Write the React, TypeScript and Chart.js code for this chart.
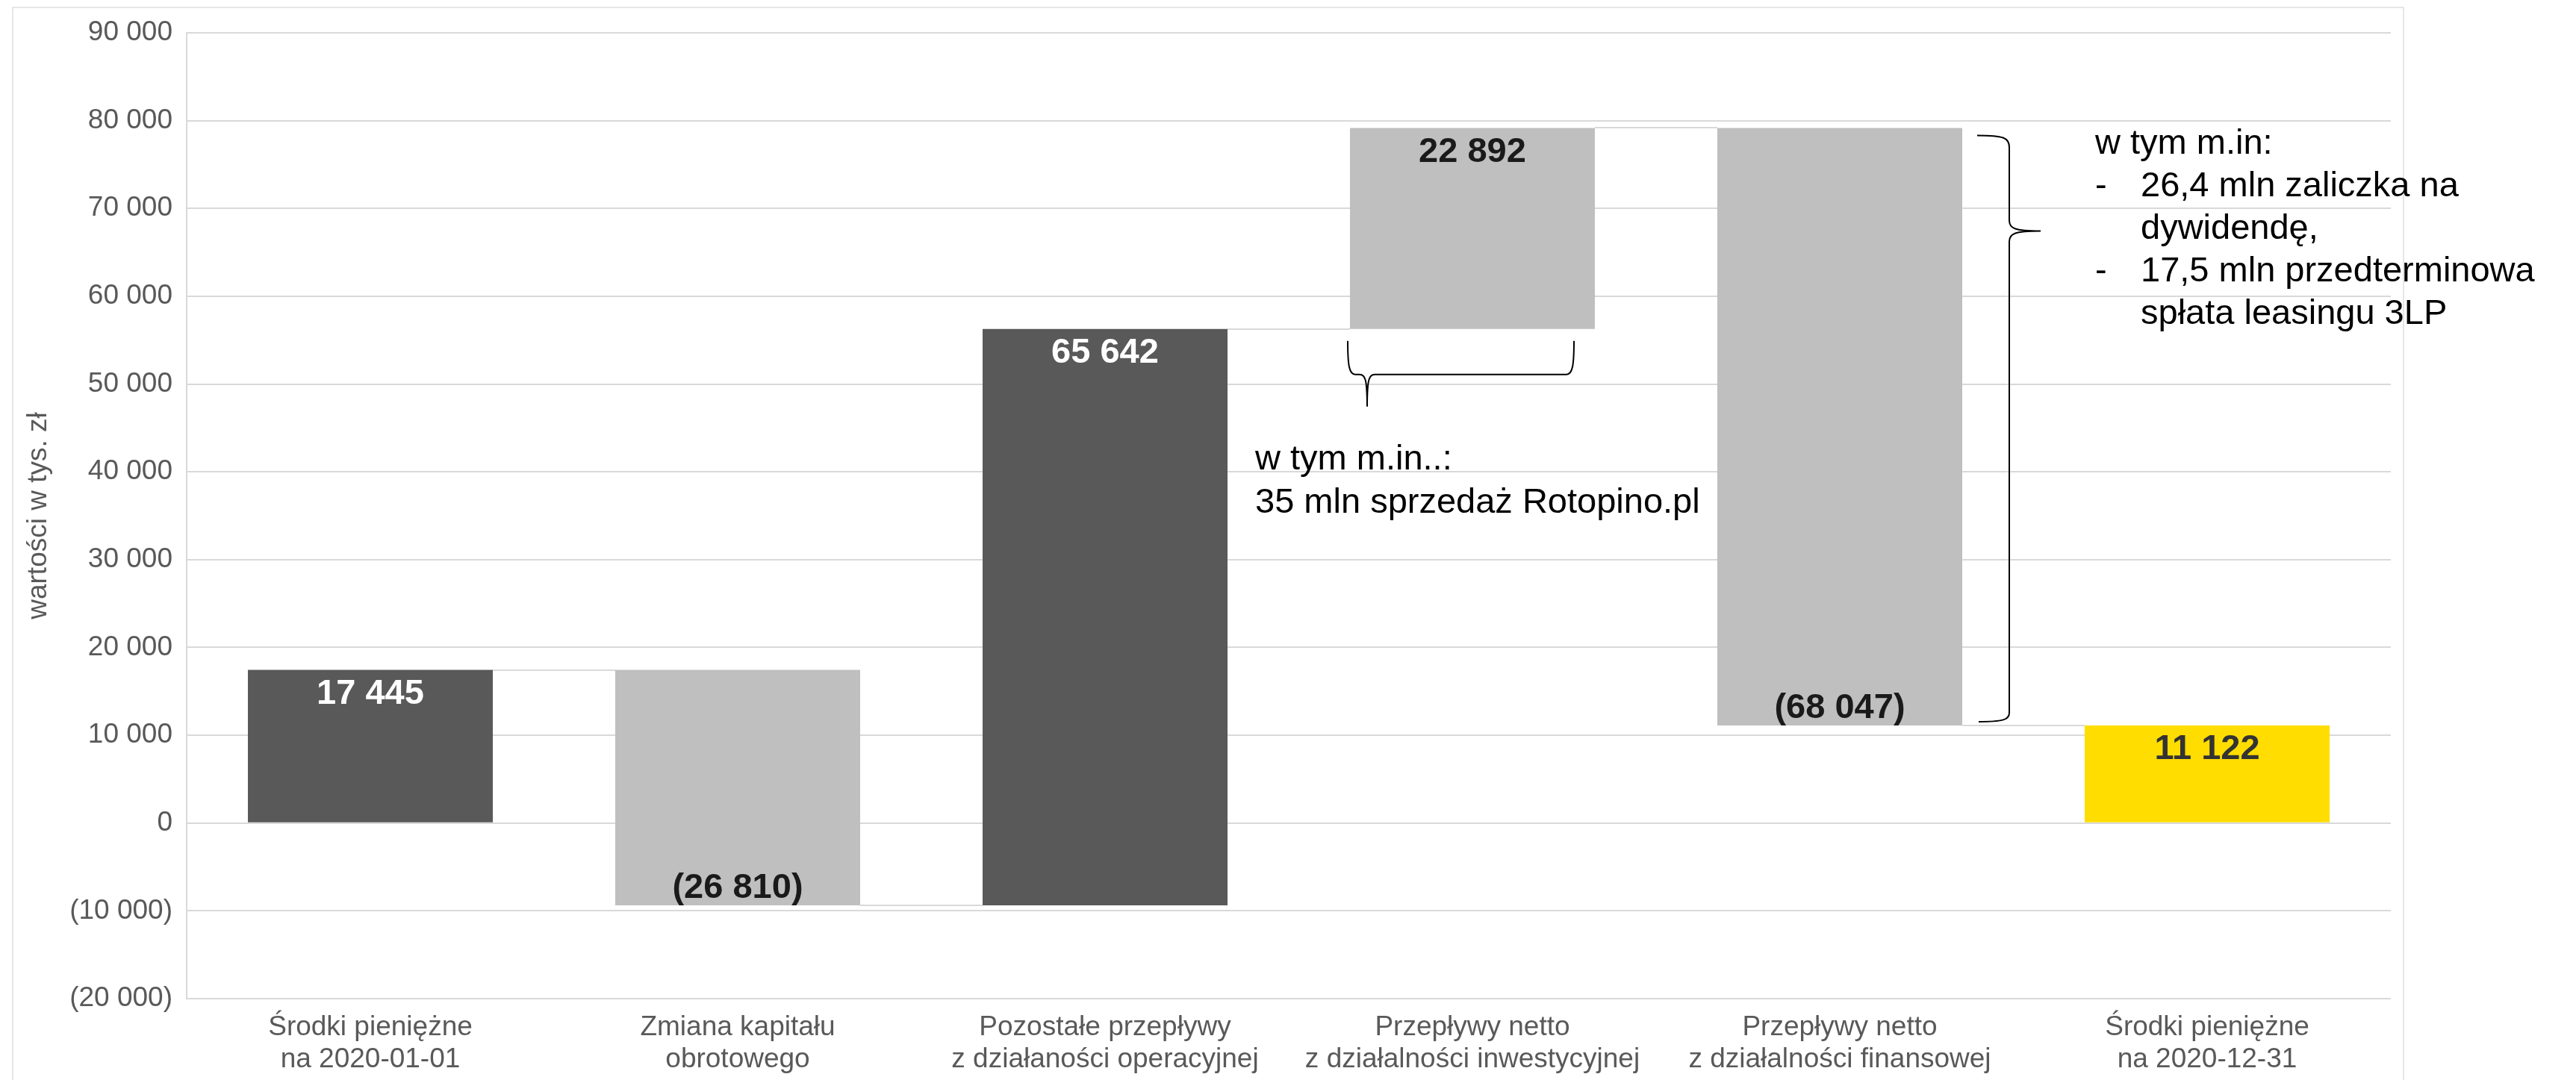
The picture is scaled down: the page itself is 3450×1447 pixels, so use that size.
import React, { useEffect, useRef } from 'react';
import { Chart, registerables } from 'chart.js';

Chart.register(...registerables);

// ---------- data ----------
const categories: string[][] = [
  ['Środki pieniężne', 'na 2020-01-01'],
  ['Zmiana kapitału', 'obrotowego'],
  ['Pozostałe przepływy', 'z działaności operacyjnej'],
  ['Przepływy netto', 'z działalności inwestycyjnej'],
  ['Przepływy netto', 'z działalności finansowej'],
  ['Środki pieniężne', 'na 2020-12-31'],
];
const stepValues: number[] = [17445, -26810, 65642, 22892, -68047, 11122];
const isTotal: boolean[] = [true, false, false, false, false, true];
const barColors: string[] = ['#595959', '#bfbfbf', '#595959', '#bfbfbf', '#bfbfbf', '#ffdd00'];
const labelColors: string[] = ['#ffffff', '#1a1a1a', '#ffffff', '#1a1a1a', '#1a1a1a', '#333333'];
const yMin = -20000;
const yMax = 90000;
const yStep = 10000;
const yAxisTitle = 'wartości w tys. zł';
const noteInvest: string[] = ['w tym m.in..:', '35 mln sprzedaż Rotopino.pl'];
const noteFinanceHead = 'w tym m.in:';
const noteFinanceItems: string[][] = [
  ['26,4 mln zaliczka na', 'dywidendę,'],
  ['17,5 mln przedterminowa', 'spłata leasingu 3LP'],
];

// floating ranges built from the step values
const ranges: [number, number][] = (() => {
  let run = 0;
  return stepValues.map((v, i) => {
    if (isTotal[i]) {
      run = v;
      return [0, v] as [number, number];
    }
    const s = run;
    run += v;
    return [s, run] as [number, number];
  });
})();

const FONT = '"Liberation Sans", Arial, Helvetica, sans-serif';

function fmt(v: number): string {
  const s = Math.abs(Math.round(v))
    .toString()
    .replace(/\B(?=(\d{3})+(?!\d))/g, ' ');
  return v < 0 ? `(${s})` : s;
}

const overlayPlugin = {
  id: 'overlay',
  beforeDraw(chart: any) {
    const ctx = chart.ctx;
    ctx.save();
    ctx.fillStyle = '#ffffff';
    ctx.fillRect(0, 0, chart.width, chart.height);
    ctx.strokeStyle = '#dedede';
    ctx.lineWidth = 1.5;
    ctx.strokeRect(17, 10, 3202, 1480);
    ctx.restore();
  },
  beforeDatasetsDraw(chart: any) {
    const ctx = chart.ctx;
    const meta = chart.getDatasetMeta(0);
    const y = chart.scales.y;
    ctx.save();
    ctx.strokeStyle = '#d9d9d9';
    ctx.lineWidth = 2;
    for (let i = 0; i < ranges.length - 1; i++) {
      const a = meta.data[i];
      const b = meta.data[i + 1];
      const py = Math.round(y.getPixelForValue(ranges[i][1])) + 0.0;
      ctx.beginPath();
      ctx.moveTo(a.x + a.width / 2, py);
      ctx.lineTo(b.x - b.width / 2, py);
      ctx.stroke();
    }
    ctx.restore();
  },
  afterDatasetsDraw(chart: any) {
    const ctx = chart.ctx;
    const meta = chart.getDatasetMeta(0);
    const y = chart.scales.y;
    ctx.save();

    // value labels
    ctx.font = `bold 47px ${FONT}`;
    ctx.textAlign = 'center';
    ctx.textBaseline = 'alphabetic';
    ranges.forEach((r, i) => {
      const el = meta.data[i];
      const top = y.getPixelForValue(Math.max(r[0], r[1]));
      const bottom = y.getPixelForValue(Math.min(r[0], r[1]));
      const val = isTotal[i] ? r[1] : r[1] - r[0];
      ctx.fillStyle = labelColors[i];
      if (val >= 0) {
        ctx.fillText(fmt(val), el.x, top + 45.5);
      } else {
        ctx.fillText(fmt(val), el.x, bottom - 10);
      }
    });

    ctx.strokeStyle = '#000000';
    ctx.lineWidth = 2;
    ctx.fillStyle = '#000000';
    ctx.font = `47px ${FONT}`;
    ctx.textAlign = 'left';

    // brace under the investment bar
    {
      const el = meta.data[3];
      const r = ranges[3];
      const bottom = y.getPixelForValue(Math.min(r[0], r[1]));
      const L = el.x - el.width / 2 - 3;
      const R = el.x + el.width / 2 - 28;
      const yTop = bottom + 16;
      const yH = bottom + 61;
      const tipX = L + 26;
      const tipY = bottom + 104;
      ctx.beginPath();
      ctx.moveTo(L, yTop);
      ctx.bezierCurveTo(L, yH - 12, L + 2, yH, L + 10, yH);
      ctx.lineTo(tipX - 10, yH);
      ctx.bezierCurveTo(tipX - 3, yH, tipX, yH + 5, tipX, tipY);
      ctx.bezierCurveTo(tipX, yH + 5, tipX + 3, yH, tipX + 10, yH);
      ctx.lineTo(R - 10, yH);
      ctx.bezierCurveTo(R - 2, yH, R, yH - 12, R, yTop);
      ctx.stroke();

      const nx = meta.data[2].x + meta.data[2].width / 2 + 37;
      ctx.fillText(noteInvest[0], nx, tipY + 84);
      ctx.fillText(noteInvest[1], nx, tipY + 84 + 58);
    }

    // brace to the right of the financing bar
    {
      const el = meta.data[4];
      const r = ranges[4];
      const top = y.getPixelForValue(Math.max(r[0], r[1]));
      const bottom = y.getPixelForValue(Math.min(r[0], r[1]));
      const Rb = el.x + el.width / 2;
      const x0 = Rb + 20;
      const xv = Rb + 63;
      const xtip = Rb + 105;
      const ytop = top + 10;
      const ybot = bottom - 5;
      const ytip = ytop + 0.163 * (ybot - ytop);
      ctx.beginPath();
      ctx.moveTo(x0, ytop);
      ctx.bezierCurveTo(xv - 8, ytop, xv, ytop + 3, xv, ytop + 16);
      ctx.lineTo(xv, ytip - 14);
      ctx.bezierCurveTo(xv, ytip - 4, xv + 6, ytip, xtip, ytip);
      ctx.bezierCurveTo(xv + 6, ytip, xv, ytip + 4, xv, ytip + 14);
      ctx.lineTo(xv, ybot - 12);
      ctx.bezierCurveTo(xv, ybot - 2, xv - 10, ybot, x0 + 2, ybot);
      ctx.stroke();

      const tx = xv + 115;
      const indent = 61;
      const lh = 57;
      let by = ytop + 25;
      ctx.fillText(noteFinanceHead, tx, by);
      noteFinanceItems.forEach((item) => {
        by += lh;
        ctx.fillText('-', tx, by);
        item.forEach((line, k) => {
          if (k > 0) by += lh;
          ctx.fillText(line, tx + indent, by);
        });
      });
    }

    ctx.restore();
  },
};

export default function App() {
  const canvasRef = useRef<HTMLCanvasElement | null>(null);

  useEffect(() => {
    document.body.style.margin = '0';
    const canvas = canvasRef.current;
    if (!canvas) return;
    const chart = new Chart(canvas, {
      type: 'bar',
      data: {
        labels: categories,
        datasets: [
          {
            data: ranges as any,
            backgroundColor: barColors,
            borderWidth: 0,
            borderSkipped: false,
            categoryPercentage: 1,
            barPercentage: 0.6667,
          },
        ],
      },
      options: {
        responsive: false,
        animation: false,
        events: [],
        layout: { padding: { left: 0, top: 44, right: 248, bottom: 0 } },
        plugins: {
          legend: { display: false },
          tooltip: { enabled: false },
          title: { display: false },
        },
        scales: {
          x: {
            grid: { display: false, drawTicks: false },
            border: { display: false },
            ticks: {
              color: '#595959',
              font: { family: FONT, size: 37, lineHeight: 1.162 },
              padding: 17,
              maxRotation: 0,
              minRotation: 0,
              autoSkip: false,
            },
            afterFit(scale: any) {
              scale.height = 109;
            },
          },
          y: {
            min: yMin,
            max: yMax,
            grid: { color: '#d9d9d9', lineWidth: 2, drawTicks: false },
            border: { display: true, color: '#d9d9d9', width: 2 },
            ticks: {
              stepSize: yStep,
              color: '#595959',
              font: { family: FONT, size: 37 },
              padding: 19,
              callback: (v: any) => fmt(Number(v)),
            },
            title: {
              display: true,
              text: yAxisTitle,
              color: '#595959',
              font: { family: FONT, size: 37 },
              padding: { top: 30, bottom: 0 },
            },
            afterFit(scale: any) {
              scale.width = 250;
            },
          },
        },
      },
      plugins: [overlayPlugin],
    });
    return () => chart.destroy();
  }, []);

  return (
    <canvas
      ref={canvasRef}
      width={3450}
      height={1447}
      style={{ display: 'block', width: '3450px', height: '1447px' }}
    />
  );
}
